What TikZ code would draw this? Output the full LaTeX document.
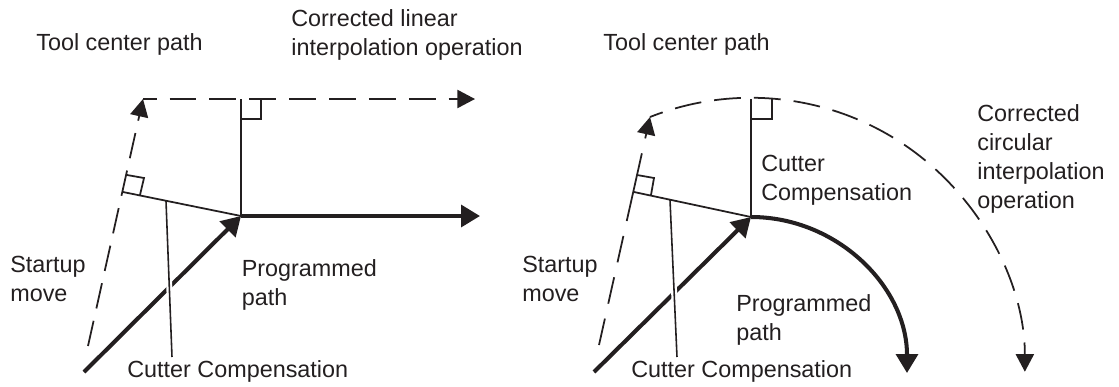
\documentclass[tikz,border=0pt]{standalone}
\usepackage{fontspec}
\setmainfont{Liberation Sans}
\usetikzlibrary{arrows.meta,positioning,calc}
\definecolor{inkblack}{RGB}{35,31,32}

\tikzset{
    thinline/.style={draw=inkblack, line width=1pt},
    leader/.style={draw=inkblack, line width=0.9pt, preaction={draw=white, line width=3.4pt}},
    dashline/.style={draw=inkblack, line width=1pt, dash pattern=on 14.7pt off 7.2pt, -{Triangle[length=10pt,width=10.3pt]}},
    thickline/.style={draw=inkblack, line width=2.3pt, -{Triangle[length=10.8pt,width=12.4pt]}},
    caption/.style={inner sep=0pt, align=left, anchor=north west, text=inkblack, font=\fontsize{13.3}{16.5}\selectfont}
}

\begin{document}
\begin{tikzpicture}[x=0.02cm, y=-0.02cm]
    \useasboundingbox (0,0) rectangle (1119,386);

    % Left figure: linear move
    \coordinate (lstart) at (84,372);
    \coordinate (lbase) at (88,346);
    \coordinate (lcorner) at (241,216);
    \coordinate (ltop) at (241,99);
    \coordinate (lapex) at (143,99);
    \coordinate (lfoot) at (123,192);
    \coordinate (lend) at (475,99);
    \coordinate (lprog) at (480,216);
    \coordinate (lmark) at (166,201);
    \coordinate (lleader) at (172,357);

    \draw[dashline] (lbase) -- (lapex);
    \draw[dashline, dash pattern=on 15.3pt off 7.4pt, dash phase=7.6pt] (lapex) -- (lend);
    \draw[thickline] (lstart) -- (lcorner);
    \draw[thickline] (lcorner) -- (lprog);
    \draw[leader] (lmark) -- (lleader);
    \draw[thinline] (lcorner) -- (ltop);
    \draw[thinline] (lcorner) -- (lfoot);
    \draw[thinline] (241,119) -- (261,119) -- (261,99);
    \draw[thinline] (127,175) -- (144,178) -- (140,195);

    \node[caption] (ltool) at (36,33) {Tool center path};
    \node[caption] (lcorr) at (291,9) {Corrected linear\\interpolation operation};
    \node[caption] (lstartup) at (10,256) {Startup\\move};
    \node[caption] (lpath) at (241.5,259) {Programmed\\path};
    \node[caption] (lcutter) at (127,360) {Cutter Compensation};

    % Right figure: circular move
    \coordinate (rstart) at (594,372);
    \coordinate (rbase) at (599,345);
    \coordinate (rcorner) at (751,217);
    \coordinate (rtop) at (751,99);
    \coordinate (rapex) at (650,117);
    \coordinate (rfoot) at (634,192);
    \coordinate (rmark) at (670,200);
    \coordinate (rleader) at (677,357);

    \draw[dashline, dash pattern=on 15.4pt off 8.7pt on 15.4pt off 8.7pt on 15.4pt off 8.7pt on 39.5pt off 8.7pt on 40pt] (rbase) -- (rapex);
    \draw[dashline, dash pattern=on 15.3pt off 7.4pt, dash phase=7.6pt] (rapex) arc[start angle=-111.6, end angle=0, radius=274];
    \draw[thickline] (rstart) -- (rcorner);
    \draw[thickline] (rcorner) arc[start angle=-90, end angle=0, radius=156];
    \draw[leader] (rmark) -- (rleader);
    \draw[thinline] (rcorner) -- (rtop);
    \draw[thinline] (rcorner) -- (rfoot);
    \draw[thinline] (751,119) -- (772,119) -- (772,99);
    \draw[thinline] (637,175) -- (654,178) -- (651,195);

    \node[caption] (rtool) at (603,33) {Tool center path};
    \node[caption] (rcomp) at (761,155) {Cutter\\Compensation};
    \node[caption] (rcorr) at (977,104) {Corrected\\circular\\interpolation\\operation};
    \node[caption] (rstartup) at (522,256) {Startup\\move};
    \node[caption] (rpath) at (736,294) {Programmed\\path};
    \node[caption] (rcutter) at (631,360) {Cutter Compensation};
\end{tikzpicture}
\end{document}
